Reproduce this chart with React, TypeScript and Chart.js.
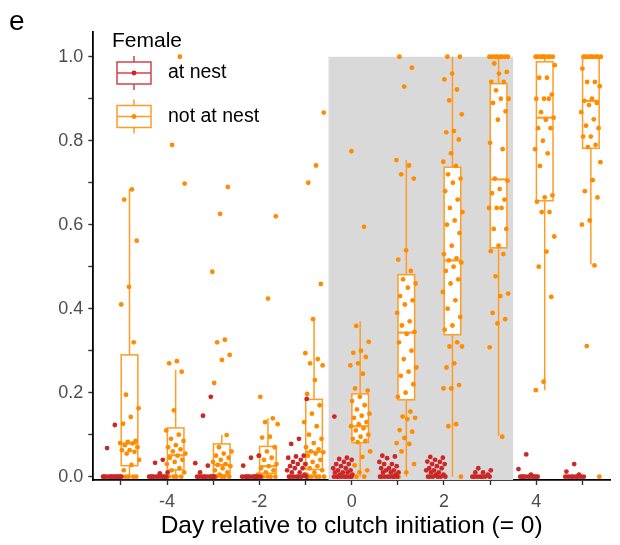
import React, { useEffect, useRef } from 'react';
import { Chart, registerables } from 'chart.js';

Chart.register(...registerables);

// ---------------- data ----------------
const days = [-5, -4, -3, -2, -1, 0, 1, 2, 3, 4, 5];
const xTickValues = [-5, -4, -3, -2, -1, 0, 1, 2, 3, 4, 5];
const yTickValues = [0, 0.1, 0.2, 0.3, 0.4, 0.5, 0.6, 0.7, 0.8, 0.9, 1.0];
const shadeDays = [-0.5, 3.5];

// Female not at nest (orange), one list per day
const notAtNest: number[][] = [
  [0.684, 0.66, 0.562, 0.452, 0.41, 0.32, 0.195, 0.163, 0.142, 0.126, 0.085, 0.083, 0.08, 0.079, 0.075, 0.07, 0.063, 0.063, 0.059, 0.055, 0.04, 0.028, 0.015, 0, 0, 0, 0, 0],
  [1.0, 0.79, 0.698, 0.275, 0.27, 0.25, 0.158, 0.11, 0.1, 0.09, 0.085, 0.075, 0.07, 0.065, 0.06, 0.055, 0.05, 0.045, 0.04, 0.035, 0.03, 0.02, 0.015, 0.01, 0, 0, 0, 0],
  [0.69, 0.626, 0.488, 0.326, 0.32, 0.29, 0.278, 0.223, 0.099, 0.07, 0.06, 0.055, 0.05, 0.045, 0.04, 0.035, 0.03, 0.028, 0.025, 0.02, 0.015, 0.01, 0.005, 0, 0, 0, 0, 0, 0],
  [0.62, 0.424, 0.19, 0.139, 0.13, 0.125, 0.095, 0.093, 0.07, 0.06, 0.05, 0.045, 0.04, 0.03, 0.025, 0.02, 0.015, 0.01, 0.005, 0, 0, 0, 0, 0],
  [0.867, 0.741, 0.7, 0.459, 0.375, 0.294, 0.28, 0.27, 0.265, 0.23, 0.197, 0.17, 0.15, 0.13, 0.12, 0.1, 0.09, 0.08, 0.07, 0.065, 0.06, 0.058, 0.055, 0.05, 0.04, 0.035, 0.03, 0.025, 0.02, 0.015, 0.01, 0.005, 0, 0, 0, 0, 0],
  [0.775, 0.595, 0.359, 0.321, 0.3, 0.295, 0.285, 0.27, 0.265, 0.245, 0.21, 0.205, 0.19, 0.18, 0.17, 0.16, 0.15, 0.145, 0.14, 0.13, 0.125, 0.12, 0.115, 0.11, 0.1, 0.095, 0.09, 0.085, 0.082, 0.06, 0.047, 0.027, 0.015, 0.01, 0, 0, 0],
  [1.0, 0.974, 0.929, 0.754, 0.741, 0.72, 0.71, 0.539, 0.517, 0.49, 0.47, 0.46, 0.45, 0.43, 0.42, 0.41, 0.39, 0.37, 0.36, 0.345, 0.34, 0.32, 0.3, 0.28, 0.26, 0.25, 0.24, 0.22, 0.2, 0.19, 0.155, 0.143, 0.14, 0.137, 0.111, 0.107, 0.092, 0.08, 0.078, 0.06, 0.03, 0.01, 0],
  [1.0, 1.0, 0.96, 0.946, 0.922, 0.896, 0.863, 0.823, 0.82, 0.803, 0.77, 0.75, 0.74, 0.72, 0.71, 0.7, 0.68, 0.66, 0.64, 0.63, 0.61, 0.6, 0.58, 0.55, 0.53, 0.52, 0.515, 0.51, 0.5, 0.49, 0.47, 0.46, 0.44, 0.42, 0.4, 0.38, 0.36, 0.35, 0.32, 0.31, 0.31, 0.27, 0.26, 0.218, 0.21, 0.21, 0.125, 0.12, 0],
  [1.0, 1.0, 1.0, 1.0, 1.0, 1.0, 1.0, 1.0, 0.984, 0.964, 0.96, 0.94, 0.94, 0.92, 0.9, 0.9, 0.89, 0.87, 0.85, 0.795, 0.78, 0.71, 0.705, 0.685, 0.675, 0.66, 0.64, 0.64, 0.64, 0.59, 0.59, 0.55, 0.537, 0.53, 0.477, 0.436, 0.43, 0.39, 0.375, 0.365, 0.308, 0.095],
  [1.0, 1.0, 1.0, 1.0, 1.0, 1.0, 1.0, 1.0, 1.0, 0.98, 0.95, 0.95, 0.91, 0.9, 0.9, 0.9, 0.868, 0.855, 0.85, 0.83, 0.83, 0.8, 0.78, 0.77, 0.74, 0.67, 0.665, 0.655, 0.63, 0.63, 0.572, 0.536, 0.5, 0.428, 0.226, 0.206],
  [1.0, 1.0, 1.0, 1.0, 1.0, 1.0, 1.0, 1.0, 1.0, 0.972, 0.94, 0.94, 0.93, 0.9, 0.895, 0.89, 0.885, 0.868, 0.851, 0.836, 0.83, 0.81, 0.81, 0.79, 0.785, 0.749, 0.706, 0.68, 0.665, 0.61, 0.6, 0.503, 0.311, 0],
];

// Female at nest (red), one list per day
const atNest: number[][] = [
  [0.123, 0.068, 0, 0, 0, 0, 0, 0, 0, 0, 0, 0, 0, 0],
  [0.04, 0.033, 0.01, 0.008, 0, 0, 0, 0, 0, 0, 0, 0, 0, 0],
  [0.19, 0.145, 0.032, 0.026, 0.01, 0, 0, 0, 0, 0, 0, 0, 0, 0, 0],
  [0.05, 0.045, 0.026, 0, 0, 0, 0, 0, 0, 0, 0, 0, 0],
  [0.185, 0.09, 0.078, 0.05, 0.048, 0.045, 0.04, 0.035, 0.03, 0.03, 0.025, 0.02, 0.02, 0.015, 0.01, 0.01, 0.005, 0, 0, 0, 0, 0, 0, 0],
  [0.143, 0.045, 0.042, 0.04, 0.035, 0.03, 0.03, 0.025, 0.02, 0.02, 0.015, 0.015, 0.01, 0.01, 0.01, 0.005, 0.005, 0, 0, 0, 0, 0, 0, 0, 0],
  [0.05, 0.048, 0.044, 0.035, 0.03, 0.03, 0.025, 0.02, 0.02, 0.015, 0.015, 0.01, 0.01, 0.01, 0.005, 0, 0, 0, 0, 0, 0, 0, 0],
  [0.047, 0.045, 0.04, 0.036, 0.035, 0.03, 0.03, 0.025, 0.02, 0.02, 0.015, 0.015, 0.01, 0.01, 0.005, 0.005, 0, 0, 0, 0, 0, 0],
  [0.02, 0.015, 0.01, 0.01, 0.005, 0, 0, 0, 0, 0, 0, 0],
  [0.053, 0.018, 0.005, 0, 0, 0, 0, 0, 0, 0, 0, 0, 0],
  [0.03, 0.012, 0.005, 0, 0, 0, 0, 0, 0, 0, 0],
];

// box-plot statistics, not at nest
const notLo = [0, 0, 0, 0, 0, 0, 0, 0, 0.097, 0.206, 0.505];
const notQ1 = [0.026, 0.016, 0.004, 0.008, 0.017, 0.081, 0.183, 0.338, 0.545, 0.657, 0.782];
const notMed = [0.079, 0.051, 0.028, 0.025, 0.059, 0.12, 0.343, 0.515, 0.708, 0.855, 0.895];
const notQ3 = [0.29, 0.116, 0.078, 0.072, 0.184, 0.197, 0.481, 0.737, 0.936, 0.988, 0.998];
const notHi = [0.685, 0.254, 0.099, 0.139, 0.375, 0.37, 0.754, 1.0, 1.0, 1.0, 1.0];
// box-plot statistics, at nest (all collapse onto zero)
const atQ1 = [0, 0, 0, 0, 0, 0, 0, 0, 0, 0, 0];
const atMed = [0, 0, 0, 0, 0, 0, 0, 0, 0, 0, 0];
const atQ3 = [0, 0, 0, 0, 0, 0, 0, 0, 0, 0, 0];

const legendTitle = 'Female';
const seriesNames = ['at nest', 'not at nest'];

// ---------------- styling ----------------
const RED = '#CD2626';
const ORANGE = '#FF8C00';
const RED_LINE = '#D2444A';
const ORANGE_LINE = '#FF9C26';
const DODGE = 0.185;
const BOX_W = 0.36;
const JITTER_W = 0.44;
const FONT = '"Liberation Sans", Arial, sans-serif';

function jitter(i: number) {
  return ((((i + 1) * 0.6180339887) % 1) - 0.5) * JITTER_W;
}

function buildPoints(groups: number[][], offset: number) {
  const pts: { x: number; y: number }[] = [];
  groups.forEach((vals, d) => {
    vals.forEach((v, i) => {
      pts.push({ x: days[d] + offset + jitter(i + d * 5), y: v });
    });
  });
  return pts;
}

function drawBox(ctx: CanvasRenderingContext2D, xs: any, ys: any, cx: number, lo: number, q1: number, med: number, q3: number, hi: number, color: string) {
  const xl = xs.getPixelForValue(cx - BOX_W / 2);
  const xr = xs.getPixelForValue(cx + BOX_W / 2);
  const xc = xs.getPixelForValue(cx);
  const yLo = ys.getPixelForValue(lo);
  const yQ1 = ys.getPixelForValue(q1);
  const yMed = ys.getPixelForValue(med);
  const yQ3 = ys.getPixelForValue(q3);
  const yHi = ys.getPixelForValue(hi);
  ctx.strokeStyle = color;
  ctx.lineWidth = 1.5;
  ctx.beginPath();
  ctx.moveTo(xc, yQ3);
  ctx.lineTo(xc, yHi);
  ctx.moveTo(xc, yQ1);
  ctx.lineTo(xc, yLo);
  ctx.stroke();
  ctx.fillStyle = '#FFFFFF';
  ctx.fillRect(xl, yQ3, xr - xl, yQ1 - yQ3);
  ctx.strokeRect(xl, yQ3, xr - xl, yQ1 - yQ3);
  ctx.lineWidth = 2.2;
  ctx.beginPath();
  ctx.moveTo(xl, yMed);
  ctx.lineTo(xr, yMed);
  ctx.stroke();
}

const backdropPlugin = {
  id: 'backdrop',
  beforeDatasetsDraw(chart: any) {
    const { ctx, chartArea, scales } = chart;
    const xs = scales.x;
    const ys = scales.y;
    ctx.save();
    const x0 = xs.getPixelForValue(shadeDays[0]);
    const x1 = xs.getPixelForValue(shadeDays[1]);
    const yTop = ys.getPixelForValue(1.0);
    ctx.fillStyle = '#D9D9D9';
    ctx.fillRect(x0, yTop, x1 - x0, chartArea.bottom - yTop);
    days.forEach((d, k) => {
      drawBox(ctx, xs, ys, d - DODGE, atQ1[k], atQ1[k], atMed[k], atQ3[k], atQ3[k], RED_LINE);
      drawBox(ctx, xs, ys, d + DODGE, notLo[k], notQ1[k], notMed[k], notQ3[k], notHi[k], ORANGE_LINE);
    });
    ctx.restore();
  },
  afterDraw(chart: any) {
    const { ctx } = chart;
    ctx.save();
    // panel tag
    ctx.fillStyle = '#000';
    ctx.font = `28px ${FONT}`;
    ctx.textAlign = 'left';
    ctx.textBaseline = 'alphabetic';
    ctx.fillText('e', 9, 30);
    // legend
    ctx.font = `21px ${FONT}`;
    ctx.textBaseline = 'middle';
    ctx.fillText(legendTitle, 112, 41);
    const items = [
      { line: RED_LINE, dot: RED, cy: 73 },
      { line: ORANGE_LINE, dot: ORANGE, cy: 116.5 },
    ];
    items.forEach((it, i) => {
      const gl = 117;
      const gr = 151;
      const gc = (gl + gr) / 2;
      ctx.strokeStyle = it.line;
      ctx.lineWidth = 1.5;
      ctx.beginPath();
      ctx.moveTo(gc, it.cy - 17);
      ctx.lineTo(gc, it.cy - 11);
      ctx.moveTo(gc, it.cy + 11);
      ctx.lineTo(gc, it.cy + 17);
      ctx.stroke();
      ctx.fillStyle = '#fff';
      ctx.fillRect(gl, it.cy - 11, gr - gl, 22);
      ctx.strokeRect(gl, it.cy - 11, gr - gl, 22);
      ctx.beginPath();
      ctx.moveTo(gl, it.cy);
      ctx.lineTo(gr, it.cy);
      ctx.stroke();
      ctx.fillStyle = it.dot;
      ctx.beginPath();
      ctx.arc(gc, it.cy, 2.4, 0, Math.PI * 2);
      ctx.fill();
      ctx.fillStyle = '#000';
      ctx.font = `19.5px ${FONT}`;
      ctx.textBaseline = 'middle';
      ctx.fillText(seriesNames[i], 168, it.cy);
    });
    ctx.restore();
  },
};

export default function App() {
  const canvasRef = useRef<HTMLCanvasElement | null>(null);

  useEffect(() => {
    if (!canvasRef.current) return;
    const chart = new Chart(canvasRef.current, {
      type: 'scatter',
      data: {
        datasets: [
          {
            label: seriesNames[0],
            data: buildPoints(atNest, -DODGE),
            backgroundColor: RED,
            borderWidth: 0,
            pointRadius: 2.4,
            pointHoverRadius: 2.4,
          },
          {
            label: seriesNames[1],
            data: buildPoints(notAtNest, DODGE),
            backgroundColor: ORANGE,
            borderWidth: 0,
            pointRadius: 2.4,
            pointHoverRadius: 2.4,
          },
        ],
      },
      options: {
        animation: false,
        responsive: false,
        events: [],
        clip: false as any,
        layout: { padding: { top: 32, right: 10, left: 0, bottom: 0 } },
        plugins: {
          legend: { display: false },
          tooltip: { enabled: false },
        },
        scales: {
          x: {
            type: 'linear',
            min: -5.6,
            max: 5.6,
            afterFit: (s: any) => {
              s.height = 65;
            },
            afterBuildTicks: (s: any) => {
              s.ticks = xTickValues.map((v) => ({ value: v }));
            },
            grid: {
              drawOnChartArea: false,
              drawTicks: true,
              tickLength: 5,
              tickColor: '#333333',
              tickWidth: 1.4,
            },
            border: { display: true, color: '#000000', width: 1.8 },
            ticks: {
              autoSkip: false,
              maxRotation: 0,
              padding: 6,
              color: '#4D4D4D',
              font: { family: FONT, size: 18 },
              callback: (v: any) => (Math.round(Number(v)) % 2 === 0 ? String(v) : ''),
            },
            title: {
              display: true,
              text: 'Day relative to clutch initiation (= 0)',
              color: '#000000',
              font: { family: FONT, size: 24.5 },
              padding: { top: 0, bottom: 4 },
            },
          },
          y: {
            type: 'linear',
            min: -0.008,
            max: 1.059,
            afterFit: (s: any) => {
              s.width = 93.3;
            },
            afterBuildTicks: (s: any) => {
              s.ticks = yTickValues.map((v) => ({ value: v }));
            },
            grid: {
              drawOnChartArea: false,
              drawTicks: true,
              tickLength: 5,
              tickColor: '#333333',
              tickWidth: 1.4,
            },
            border: { display: true, color: '#000000', width: 1.8 },
            ticks: {
              autoSkip: false,
              padding: 5,
              color: '#4D4D4D',
              font: { family: FONT, size: 18 },
              callback: (v: any) => (Math.round(Number(v) * 10) % 2 === 0 ? Number(v).toFixed(1) : ''),
            },
          },
        },
      },
      plugins: [backdropPlugin],
    });
    return () => chart.destroy();
  }, []);

  return (
    <div style={{ position: 'absolute', left: 0, top: 0, width: 620, height: 545, background: '#fff' }}>
      <canvas ref={canvasRef} width={620} height={545} />
    </div>
  );
}
